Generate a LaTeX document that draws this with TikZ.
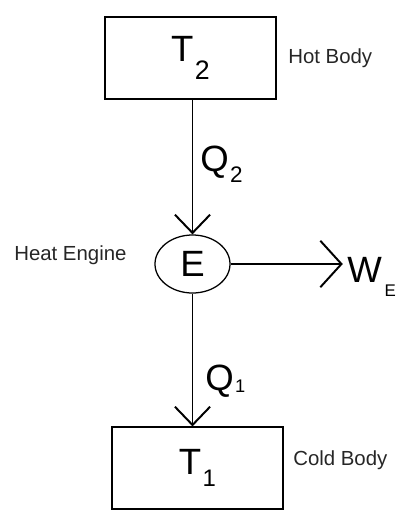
\documentclass[tikz,border=0pt]{standalone}
\usepackage{fontspec}
\setmainfont{Liberation Sans}
\usetikzlibrary{arrows.meta,positioning,shapes.geometric}
\newcommand{\lowsub}[3]{\hspace{1pt}\raisebox{#2}{\fontsize{#3}{#3}\selectfont #1}}

\begin{document}
\begin{tikzpicture}[
    x=0.025cm, y=-0.025cm,
    body/.style={rectangle, draw, line width=1.4pt, minimum width=4.25cm, minimum height=2.03cm,
                 font=\fontsize{26}{26}\selectfont, inner sep=0pt},
    tag/.style={font=\fontsize{14.5}{14.5}\selectfont, text=black!85, inner sep=0pt, anchor=base west},
    flow/.style={line width=1.4pt, -{Straight Barb[length=13pt,width=25pt,line width=1.4pt]}},
  ]
    \useasboundingbox (0,0) rectangle (406,521);

    % Reservoirs
    \node[body] (hot) at (190.5,58) {T\lowsub{2}{-12.5pt}{19}};
    \node[body] (cold) at (197.5,468) {T\lowsub{1}{-8pt}{17}};

    % Engine
    \node[ellipse, draw, line width=0.9pt, minimum width=1.875cm, minimum height=1.45cm,
          inner sep=0pt, font=\fontsize{26}{26}\selectfont] (engine) at (192.5,264) {E};

    % Work output
    \node[inner sep=0pt, anchor=base west, font=\fontsize{26}{26}\selectfont] (work) at (347,282)
      {W\hspace{2pt}\raisebox{-10.5pt}{\fontsize{12}{12}\selectfont E}};

    % Heat flows
    \draw[flow] (engine.north |- hot.south) -- (engine.north);
    \draw[flow] (engine.south) -- (engine.south |- cold.north);
    \draw[flow, -{Straight Barb[length=15pt,width=33pt,line width=1.4pt]}]
      (engine.east) -- ([xshift=-3pt]engine.east -| work.west);

    % Labels
    \node[inner sep=0pt, anchor=base west, font=\fontsize{26}{26}\selectfont] (q2) at (200,171) {Q\lowsub{2}{-8pt}{16}};
    \node[inner sep=0pt, anchor=base west, font=\fontsize{26}{26}\selectfont] (q1) at (205,390) {Q\lowsub{1}{-2pt}{13}};
    \node[tag] (hotlbl) at (288,63) {Hot Body};
    \node[tag] (coldlbl) at (293,465) {Cold Body};
    \node[tag] (englbl) at (14,260) {Heat Engine};
  \end{tikzpicture}
\end{document}
